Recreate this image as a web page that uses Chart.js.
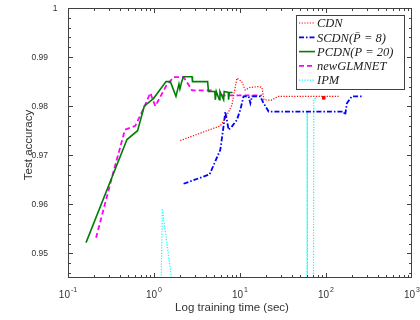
<!DOCTYPE html>
<html>
<head>
<meta charset="utf-8">
<script src="https://cdn.jsdelivr.net/npm/chart.js@4.4.1/dist/chart.umd.min.js"></script>
<style>
  html, body { margin: 0; padding: 0; background: #fff; }
</style>
</head>
<body>
<canvas id="accChart" width="420" height="320"></canvas>
<script>
// training time (sec) / test accuracy, one pair of arrays per solver
const cdnTime = [2.02, 5.9, 6.8, 8.07, 9.2, 10.5, 11.5, 13.0, 16.5, 18.0, 19.0, 23.0, 26.5, 28.1, 140];
const cdnAcc = [0.9730, 0.9760, 0.9776, 0.9803, 0.9857, 0.9850, 0.9833, 0.9838, 0.9840, 0.9838, 0.9813, 0.9812, 0.9818, 0.9820, 0.9820];
const cdnMarkTime = [94];
const cdnMarkAcc = [0.9817];

const scdnTime = [2.21, 4.43, 5.9, 6.45, 6.75, 7.37, 8.07, 9.2, 10.1, 11.0, 12.6, 13.2, 13.8, 17.2, 18.8, 21.5, 160, 167, 175, 192, 200, 274];
const scdnAcc = [0.9642, 0.9661, 0.9711, 0.9760, 0.9789, 0.9752, 0.9759, 0.9772, 0.9793, 0.9820, 0.9820, 0.9806, 0.9820, 0.9820, 0.9806, 0.9789, 0.9789, 0.9782, 0.9806, 0.9816, 0.9820, 0.9820];

const pcdnTime = [0.162, 0.485, 0.644, 0.77, 0.99, 1.38, 1.55, 1.80, 1.95, 2.0, 2.1, 2.2, 2.77, 2.8, 4.2, 4.3, 5.1, 5.16, 5.3, 5.75, 5.85, 6.45, 6.55, 7.3, 7.37, 7.5, 8.2];
const pcdnAcc = [0.9522, 0.9732, 0.9750, 0.9800, 0.9816, 0.9850, 0.9850, 0.9820, 0.9845, 0.9835, 0.9850, 0.9860, 0.9860, 0.9850, 0.9850, 0.9830, 0.9830, 0.9813, 0.9830, 0.9813, 0.9830, 0.9813, 0.9830, 0.9828, 0.9813, 0.9828, 0.9828];

const glmTime = [0.212, 0.33, 0.46, 0.606, 0.77, 0.906, 1.035, 1.38, 1.69, 2.21, 2.6, 2.77, 4.9, 5.5, 18.0];
const glmAcc = [0.9532, 0.9660, 0.9752, 0.9760, 0.9798, 0.9827, 0.9800, 0.9841, 0.9859, 0.9859, 0.9840, 0.9832, 0.9832, 0.9822, 0.9822];

const ipmTime = [1.2, 1.25, 1.74, 60.0, 60.5, 61.0, 71.5, 72.0, 77.0];
const ipmAcc = [0.940, 0.9591, 0.940, 0.940, 0.9789, 0.940, 0.940, 0.9813, 0.9818];

const seriesNames = ['CDN', 'SCDN(P\u0304 = 8)', 'PCDN(P = 20)', 'newGLMNET', 'IPM'];

const xTickValues = [0.1, 1, 10, 100, 1000];
const xTickExps = ['-1', '0', '1', '2', '3'];
const yTickValues = [0.95, 0.96, 0.97, 0.98, 0.99, 1];
const yTickLabels = ['0.95', '0.96', '0.97', '0.98', '0.99', '1'];

const toPoints = (xs, ys) => xs.map((v, i) => ({ x: v, y: ys[i] }));

const axisFrame = {
  id: 'axisFrame',
  afterDatasetsDraw(chart) {
    const { ctx, chartArea: { left, right, top, bottom }, scales: { x, y } } = chart;
    ctx.save();
    ctx.strokeStyle = '#404040';
    ctx.lineWidth = 1;
    ctx.strokeRect(left + 0.5, top + 0.5, right - left - 1, bottom - top - 1);

    // inward ticks, MATLAB style
    ctx.beginPath();
    for (let e = -1; e < 3; e++) {
      for (let k = 1; k < 10; k++) {
        const px = Math.round(x.getPixelForValue(k * Math.pow(10, e))) + 0.5;
        const len = k === 1 ? 5 : 3;
        ctx.moveTo(px, bottom); ctx.lineTo(px, bottom - len);
        ctx.moveTo(px, top); ctx.lineTo(px, top + len);
      }
    }
    for (let v = 946; v <= 1000; v += 2) {
      const py = Math.round(y.getPixelForValue(v / 1000)) + 0.5;
      const len = v % 10 === 0 ? 5 : 3;
      ctx.moveTo(left, py); ctx.lineTo(left + len, py);
      ctx.moveTo(right, py); ctx.lineTo(right - len, py);
    }
    ctx.stroke();

    ctx.fillStyle = '#333';
    ctx.textBaseline = 'alphabetic';
    // y labels
    ctx.font = '8.5px "Liberation Sans", Arial, sans-serif';
    ctx.textAlign = 'right';
    yTickValues.forEach((v, i) => {
      const py = y.getPixelForValue(v);
      const shift = yTickLabels[i].length === 1 ? 9.5 : 0;
      ctx.fillText(yTickLabels[i], 48 + shift, py + 3);
    });
    // x labels: 10 with raised exponent
    ctx.textAlign = 'left';
    xTickValues.forEach((v, i) => {
      const px = x.getPixelForValue(v);
      ctx.font = '10px "Liberation Sans", Arial, sans-serif';
      const wb = ctx.measureText('10').width;
      ctx.font = '7px "Liberation Sans", Arial, sans-serif';
      const we = ctx.measureText(xTickExps[i]).width;
      const x0 = px - (wb + 1 + we) / 2;
      ctx.font = '10px "Liberation Sans", Arial, sans-serif';
      ctx.fillText('10', x0, 298);
      ctx.font = '7px "Liberation Sans", Arial, sans-serif';
      ctx.fillText(xTickExps[i], x0 + wb + 1, 292);
    });

    // axis titles
    ctx.font = '11.5px "Liberation Sans", Arial, sans-serif';
    ctx.textAlign = 'center';
    ctx.fillText('Log training time (sec)', 232, 311);
    ctx.save();
    ctx.translate(32, 145);
    ctx.rotate(-Math.PI / 2);
    ctx.fillText('Test accuracy', 0, 0);
    ctx.restore();

    // legend
    const lx = 296, ly = 15, lw = 108, lh = 74;
    ctx.fillStyle = '#fff';
    ctx.fillRect(lx, ly, lw, lh);
    ctx.strokeStyle = '#404040';
    ctx.strokeRect(lx + 0.5, ly + 0.5, lw, lh);
    ctx.font = 'italic 12.5px "Liberation Serif", "Times New Roman", serif';
    ctx.textAlign = 'left';
    ctx.textBaseline = 'middle';
    chart.data.datasets.slice(0, 5).forEach((ds, i) => {
      const ry = ly + 8 + i * 14.3;
      ctx.strokeStyle = ds.borderColor;
      ctx.lineWidth = ds.borderWidth;
      ctx.setLineDash(ds.borderDash || []);
      ctx.beginPath();
      ctx.moveTo(lx + 3, ry); ctx.lineTo(lx + 19, ry);
      ctx.stroke();
      ctx.setLineDash([]);
      ctx.fillStyle = '#222';
      ctx.fillText(ds.label, lx + 21, ry + 1);
    });
    ctx.restore();
  }
};

const lineStyle = { pointRadius: 0, fill: false, tension: 0 };

new Chart(document.getElementById('accChart').getContext('2d'), {
  type: 'line',
  data: {
    datasets: [
      { label: seriesNames[0], data: toPoints(cdnTime, cdnAcc), borderColor: '#ff0000', borderWidth: 1.2, borderDash: [1.2, 1.5], ...lineStyle },
      { label: seriesNames[1], data: toPoints(scdnTime, scdnAcc), borderColor: '#0000ff', borderWidth: 1.8, borderDash: [5, 2, 1.5, 2], ...lineStyle },
      { label: seriesNames[2], data: toPoints(pcdnTime, pcdnAcc), borderColor: '#008000', borderWidth: 1.6, ...lineStyle },
      { label: seriesNames[3], data: toPoints(glmTime, glmAcc), borderColor: '#ff00ff', borderWidth: 1.8, borderDash: [5, 3], ...lineStyle },
      { label: seriesNames[4], data: toPoints(ipmTime, ipmAcc), borderColor: '#00ffff', borderWidth: 1.2, borderDash: [1.2, 1.5], ...lineStyle },
      { label: 'CDN end', data: toPoints(cdnMarkTime, cdnMarkAcc), showLine: false, pointStyle: 'rect', pointRadius: 2.5, pointBackgroundColor: '#ff0000', pointBorderColor: '#ff0000', borderColor: '#ff0000', borderWidth: 0 }
    ]
  },
  options: {
    responsive: false,
    animation: false,
    layout: { padding: { top: 8, right: 8, left: 0, bottom: 0 } },
    plugins: { legend: { display: false }, tooltip: { enabled: false } },
    scales: {
      x: {
        type: 'logarithmic', min: 0.1, max: 1000,
        ticks: { display: false }, grid: { display: false }, border: { display: false },
        afterFit(s) { s.height = 42; }
      },
      y: {
        min: 0.945, max: 1,
        ticks: { display: false }, grid: { display: false }, border: { display: false },
        afterFit(s) { s.width = 68; }
      }
    }
  },
  plugins: [axisFrame]
});
</script>
</body>
</html>
